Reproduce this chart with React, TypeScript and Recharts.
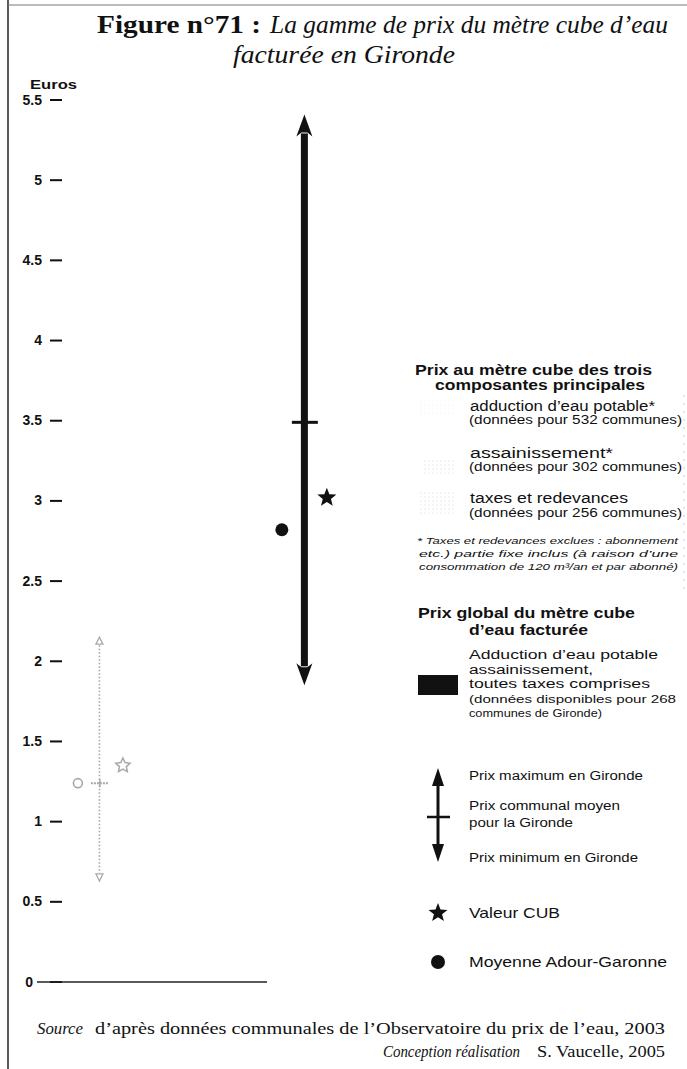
import React from 'react';
import { ComposedChart, XAxis, YAxis, Bar, Scatter } from 'recharts';

// ---- data (euros per m3) ----
const categories = ["Adduction d'eau potable", "Prix global du mètre cube d'eau facturée"];
const minPrice = [0.63, 1.85];
const meanPrice = [1.24, 3.49];
const maxPrice = [2.15, 5.41];
const cubValue = [1.35, 3.02];
const adourGaronne = [1.24, 2.82];
const yTicks = [0, 0.5, 1, 1.5, 2, 2.5, 3, 3.5, 4, 4.5, 5, 5.5];

const rows = categories.map((name, i) => ({
  name,
  pos: i,
  range: [minPrice[i], maxPrice[i]],
  mean: meanPrice[i],
  cub: cubValue[i],
  ag: adourGaronne[i],
}));

const INK = '#111';
const FAINT = '#a8a8a8';
const SANS = '"Liberation Sans", Arial, sans-serif';
const SERIF = '"Liberation Serif", "Times New Roman", serif';

function starPoints(cx: number, cy: number, R: number, r: number) {
  const pts: string[] = [];
  for (let k = 0; k < 10; k++) {
    const a = -Math.PI / 2 + (k * Math.PI) / 5;
    const rad = k % 2 === 0 ? R : r;
    pts.push(`${cx + rad * Math.cos(a)},${cy + rad * Math.sin(a)}`);
  }
  return pts.join(' ');
}

function idxOf(p: any) {
  return p && p.payload && typeof p.payload.pos === 'number' ? p.payload.pos : p.index;
}

function RangeArrow(props: any) {
  const { x, y, width, height } = props;
  const i = idxOf(props);
  const cx = x + width / 2;
  const top = Math.min(y, y + height);
  const bottom = Math.max(y, y + height);
  if (i === 1) {
    const hw = 8;
    const hl = 22;
    return (
      <g>
        <rect x={cx - 3.5} y={top + hl - 3} width={7} height={bottom - top - 2 * hl + 6} fill={INK} />
        <polygon points={`${cx},${top} ${cx - hw},${top + hl} ${cx - 3},${top + hl - 4} ${cx + 3},${top + hl - 4} ${cx + hw},${top + hl}`} fill={INK} />
        <polygon points={`${cx},${bottom} ${cx - hw},${bottom - hl} ${cx - 3},${bottom - hl + 4} ${cx + 3},${bottom - hl + 4} ${cx + hw},${bottom - hl}`} fill={INK} />
      </g>
    );
  }
  return (
    <g>
      <line x1={cx} x2={cx} y1={top + 8} y2={bottom - 8} stroke={FAINT} strokeWidth={1.6} strokeDasharray="1.5 2" />
      <polygon points={`${cx},${top} ${cx - 3.5},${top + 7} ${cx + 3.5},${top + 7}`} fill="none" stroke={FAINT} strokeWidth={1.3} />
      <polygon points={`${cx},${bottom} ${cx - 3.5},${bottom - 7} ${cx + 3.5},${bottom - 7}`} fill="none" stroke={FAINT} strokeWidth={1.3} />
    </g>
  );
}

function MeanMark(props: any) {
  const { cx, cy } = props;
  const i = idxOf(props);
  if (i === 1) {
    return <line x1={cx - 13} x2={cx + 13} y1={cy} y2={cy} stroke={INK} strokeWidth={3} />;
  }
  return (
    <g>
      <line x1={cx - 9} x2={cx + 9} y1={cy} y2={cy} stroke={FAINT} strokeWidth={2} strokeDasharray="2 1" />
      <line x1={cx} x2={cx} y1={cy - 4} y2={cy + 4} stroke={FAINT} strokeWidth={1.5} />
    </g>
  );
}

function CubMark(props: any) {
  const { cx, cy } = props;
  const i = idxOf(props);
  if (i === 1) {
    return <polygon points={starPoints(cx + 22, cy, 10, 4.3)} fill={INK} />;
  }
  return <polygon points={starPoints(cx + 23, cy, 7.5, 3.6)} fill="none" stroke={FAINT} strokeWidth={1.5} />;
}

function AgMark(props: any) {
  const { cx, cy } = props;
  const i = idxOf(props);
  if (i === 1) {
    return <circle cx={cx - 23} cy={cy} r={6.5} fill={INK} />;
  }
  return <circle cx={cx - 22} cy={cy} r={4.5} fill="none" stroke={FAINT} strokeWidth={1.6} />;
}

function YTick(props: any) {
  const { x, y, payload } = props;
  const v = payload.value;
  const style = { fontFamily: SANS, fontWeight: 700, fontSize: 14, fill: INK } as any;
  if (v === 0) {
    return (
      <g>
        <text x={x - 9} y={y + 4.5} textAnchor="end" style={style}>0</text>
        <line x1={x - 5} x2={x + 225} y1={y} y2={y} stroke="#222" strokeWidth={1.5} />
      </g>
    );
  }
  return (
    <text x={x} y={y + 4.5} textAnchor="end" style={style}>{String(v)}</text>
  );
}

type T = { t: string; x: number; y: number; len?: number; size: number; bold?: boolean; italic?: boolean; serif?: boolean; fill?: string };

const texts: T[] = [
  { t: 'Figure n°71 :', x: 97, y: 33, len: 164, size: 26, bold: true, serif: true },
  { t: 'La gamme de prix du mètre cube d\u2019eau', x: 270, y: 33, len: 398, size: 26, italic: true, serif: true },
  { t: 'facturée  en Gironde', x: 233, y: 63, len: 222, size: 26, italic: true, serif: true },
  { t: 'Euros', x: 30, y: 89, len: 47, size: 12.5, bold: true },

  { t: 'Prix au mètre cube des trois', x: 415, y: 375, len: 237, size: 14, bold: true },
  { t: 'composantes principales', x: 435, y: 390, len: 210, size: 14, bold: true },
  { t: 'adduction d\u2019eau potable*', x: 470, y: 411, len: 185, size: 14 },
  { t: '(données pour 532 communes)', x: 469, y: 424, len: 213, size: 12 },
  { t: 'assainissement*', x: 470, y: 458, len: 143, size: 14 },
  { t: '(données pour 302 communes)', x: 469, y: 471, len: 213, size: 12 },
  { t: 'taxes et redevances', x: 470, y: 503, len: 158, size: 14 },
  { t: '(données pour 256 communes)', x: 469, y: 517, len: 213, size: 12 },
  { t: '* Taxes et redevances exclues : abonnement', x: 417, y: 544, len: 261, size: 9.5, italic: true },
  { t: 'etc.) partie fixe inclus (à raison d\u2019une', x: 419, y: 557, len: 259, size: 9.5, italic: true },
  { t: 'consommation de 120 m³/an et par abonné)', x: 419, y: 570, len: 259, size: 9.5, italic: true },

  { t: 'Prix global du mètre cube', x: 418, y: 618, len: 217, size: 15, bold: true },
  { t: 'd\u2019eau facturée', x: 469, y: 635, len: 119, size: 15, bold: true },
  { t: 'Adduction d\u2019eau potable', x: 469, y: 659, len: 189, size: 12.5 },
  { t: 'assainissement,', x: 469, y: 673.5, len: 124, size: 12.5 },
  { t: 'toutes taxes comprises', x: 469, y: 688, len: 181, size: 12.5 },
  { t: '(données disponibles pour 268', x: 469, y: 703, len: 207, size: 11.5 },
  { t: 'communes de Gironde)', x: 469, y: 716.5, len: 133, size: 11.5 },

  { t: 'Prix maximum en Gironde', x: 469, y: 780, len: 174, size: 12.5 },
  { t: 'Prix communal moyen', x: 469, y: 810, len: 151, size: 12.5 },
  { t: 'pour la Gironde', x: 469, y: 827, len: 104, size: 12.5 },
  { t: 'Prix minimum en Gironde', x: 469, y: 862, len: 169, size: 12.5 },
  { t: 'Valeur CUB', x: 469, y: 918, len: 91, size: 15 },
  { t: 'Moyenne Adour-Garonne', x: 469, y: 967, len: 198, size: 15 },

  { t: 'Source', x: 37, y: 1034, len: 46, size: 16, italic: true, serif: true },
  { t: 'd\u2019après données communales de l\u2019Observatoire du prix de l\u2019eau, 2003', x: 95, y: 1034, len: 570, size: 16, serif: true },
  { t: 'Conception réalisation', x: 383, y: 1057, len: 137, size: 16, italic: true, serif: true },
  { t: 'S. Vaucelle, 2005', x: 537, y: 1057, len: 128, size: 16, serif: true },
];

function Overlay() {
  return (
    <svg width={687} height={1069} style={{ position: 'absolute', left: 0, top: 0, pointerEvents: 'none' }}>
      <defs>
        <pattern id="stip" width={4} height={4} patternUnits="userSpaceOnUse">
          <circle cx={1} cy={1} r={0.6} fill="#c4c4c4" />
        </pattern>
      </defs>
      {/* frame */}
      <line x1={8} x2={8} y1={0} y2={1069} stroke="#333" strokeWidth={1.6} />
      <line x1={8} x2={687} y1={5} y2={5} stroke="#777" strokeWidth={1} />
      <line x1={684} x2={684} y1={395} y2={590} stroke="#ccc" strokeWidth={1} strokeDasharray="2 6" />

      {texts.map((d, k) => (
        <text
          key={k}
          x={d.x}
          y={d.y}
          textLength={d.len}
          lengthAdjust="spacingAndGlyphs"
          style={{
            fontFamily: d.serif ? SERIF : SANS,
            fontSize: d.size,
            fontWeight: d.bold ? 700 : 400,
            fontStyle: d.italic ? 'italic' : 'normal',
            fill: d.fill || INK,
          }}
        >
          {d.t}
        </text>
      ))}

      {/* component swatches (very pale in the original) */}
      <rect x={420} y={399} width={36} height={15} fill="url(#stip)" opacity={0.35} />
      <rect x={422} y={460} width={32} height={16} fill="url(#stip)" opacity={0.8} />
      <rect x={420} y={491} width={34} height={24} fill="url(#stip)" opacity={0.8} />

      {/* global price swatch */}
      <rect x={418} y={675} width={40} height={20} fill={INK} />

      {/* arrow legend */}
      <rect x={436.5} y={782} width={3} height={66} fill={INK} />
      <polygon points="438,768 432,786 444,786" fill={INK} />
      <polygon points="438,862 432,844 444,844" fill={INK} />
      <line x1={427} x2={450} y1={817} y2={817} stroke={INK} strokeWidth={2.5} />

      <polygon points={starPoints(438, 913, 10, 4.3)} fill={INK} />
      <circle cx={438} cy={962} r={7} fill={INK} />
    </svg>
  );
}

export default function App() {
  return (
    <div style={{ position: 'absolute', left: 0, top: 0, width: 687, height: 1069, background: '#fff', overflow: 'hidden' }}>
      <ComposedChart
        width={687}
        height={1069}
        data={rows}
        margin={{ top: 100, right: 285, bottom: 87, left: 0 }}
      >
        <XAxis type="number" dataKey="pos" domain={[-0.185, 1.474]} ticks={[0, 1]} hide />
        <YAxis
          type="number"
          domain={[0, 5.5]}
          ticks={yTicks}
          interval={0}
          width={62}
          axisLine={false}
          tickSize={12}
          tickMargin={8}
          tickLine={{ stroke: INK, strokeWidth: 2 }}
          tick={<YTick />}
        />
        <Bar dataKey="range" barSize={16} shape={<RangeArrow />} isAnimationActive={false} />
        <Scatter dataKey="mean" shape={<MeanMark />} isAnimationActive={false} />
        <Scatter dataKey="cub" shape={<CubMark />} isAnimationActive={false} />
        <Scatter dataKey="ag" shape={<AgMark />} isAnimationActive={false} />
      </ComposedChart>
      <Overlay />
    </div>
  );
}
